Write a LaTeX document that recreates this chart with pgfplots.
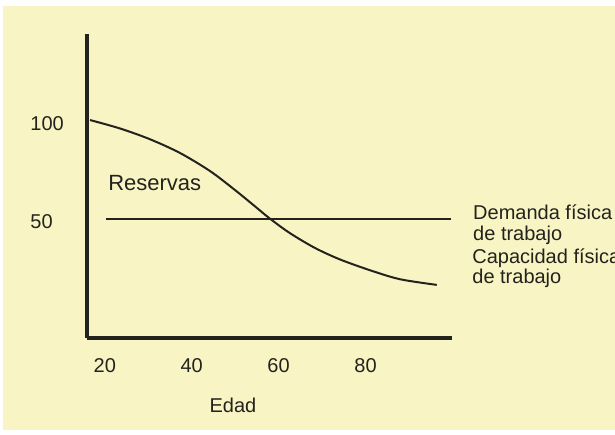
\documentclass[border=0pt]{standalone}
\usepackage{fontspec}
\setmainfont{Liberation Sans}
\usepackage{pgfplots}
\pgfplotsset{compat=1.18}
\definecolor{paper}{RGB}{249,244,196}
\definecolor{ink}{RGB}{35,35,30}

\begin{document}
\begin{tikzpicture}
% page and yellow paper
\path[use as bounding box, fill=white] (-43.5pt,-48pt) rectangle (264pt,169pt);
\fill[paper] (-42pt,-46pt) rectangle (264pt,166pt);
\begin{axis}[
    at={(0,0)}, anchor=south west,
    scale only axis, width=182.5pt, height=152pt,
    xmin=15.9, xmax=99.9, ymin=-10.7, ymax=144.4,
    axis x line=bottom, axis y line=left,
    axis line style={-, line width=1.6pt, ink},
    xtick={20,40,60,80}, ytick={50,100},
    major tick length=0pt,
    /pgf/number format/assume math mode=true,
    xticklabel style={anchor=north, inner sep=0pt, yshift=-10pt, text=ink},
    yticklabel style={anchor=west, inner sep=0pt, xshift=-28.5pt, yshift=-1.5pt, text=ink},
    xlabel={Edad},
    xlabel style={at={(axis description cs:0.4,-0.2204)}, anchor=center, inner sep=0pt, text=ink},
    clip=false,
    ]
% demanda fisica
\addplot[ink, line width=1pt] coordinates {(20.25,50) (99.65,50)};
% capacidad fisica
\addplot[ink, line width=1pt, smooth] coordinates {
    (16.6,100.5) (23.5,96.2) (30.4,90.7) (37.3,83.7) (44.2,74.5) (49.9,64.9)
    (54.6,56.4) (58.0,50.2) (62.6,42.8) (68.4,35.2) (74.1,29.4) (81.0,23.9)
    (87.9,19.3) (96.4,16.4)};
\node[anchor=center, inner sep=0pt, text=ink, font=\fontsize{11}{13}\selectfont]
    at (axis cs:31.5,68.4) {Reservas};
\node[anchor=west, align=left, inner sep=0pt, font=\fontsize{10}{10.3}\selectfont, text=ink]
    at (axis cs:104.7,47) {Demanda física\\de trabajo};
\node[anchor=west, align=left, inner sep=0pt, font=\fontsize{10}{10.3}\selectfont, text=ink]
    at (axis cs:104.5,25) {Capacidad física\\de trabajo};
\end{axis}
\end{tikzpicture}
\end{document}
